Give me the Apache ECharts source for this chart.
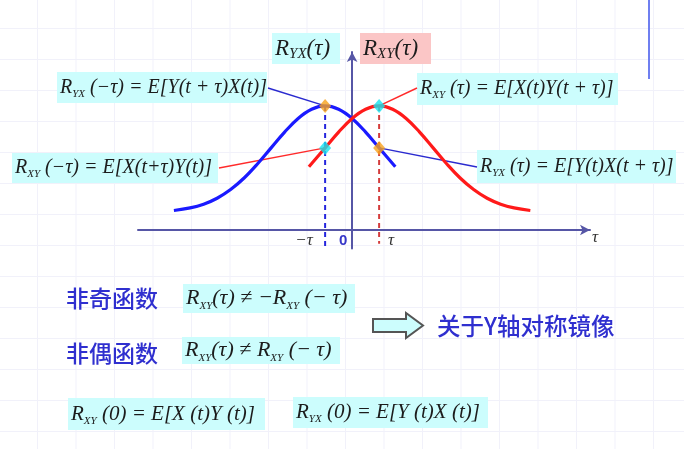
<!DOCTYPE html>
<html><head><meta charset="utf-8">
<script src="https://cdn.jsdelivr.net/npm/echarts@6/dist/echarts.min.js"></script>
<style>
html,body{margin:0;padding:0;background:#fff}
#c{width:684px;height:449px;background-color:#fff;
background-image:linear-gradient(#f1f1fa 1px,transparent 1px),linear-gradient(90deg,#f1f1fa 1px,transparent 1px);
background-size:38.5px 31px;background-position:37px 28px}
</style>
</head><body><div id="c"></div>
<script>
// ---- data ----
const tauBlue = [-6.6,-6,-5.5,-5,-4.5,-4,-3.5,-3,-2.5,-2,-1.5,-1,-0.5,0,0.5,1,1.6];
const rBlue   = [0.157,0.178,0.208,0.256,0.326,0.419,0.534,0.662,0.789,0.899,0.973,1.0,0.973,0.899,0.789,0.662,0.510];
const tauRed  = [-1.6,-1,-0.5,0,0.5,1,1.5,2,2.5,3,3.5,4,4.5,5,5.5,6,6.6];
const rRed    = [0.510,0.662,0.789,0.899,0.973,1.0,0.973,0.899,0.789,0.662,0.534,0.419,0.326,0.256,0.208,0.178,0.157];
const markTau = [-1, 1];
const orangeR = [1.0, 0.662];   // points on blue curve
const cyanR   = [0.662, 1.0];   // points on red curve
const tickTau  = [-1, 0, 1];
const tickText = ['−τ', '0', 'τ'];
const dashBottom = [-0.15, -0.11];

const SERIF = '"Liberation Serif","Times New Roman",serif';
const CJK = '"Noto Sans CJK SC","Noto Sans",sans-serif';
function rich(main, sub){
  return {
    m:{fontFamily:SERIF,fontStyle:'italic',fontSize:main,lineHeight:main+4,fill:'#1c1c1c',color:'#1c1c1c'},
    s:{fontFamily:SERIF,fontStyle:'italic',fontSize:sub,lineHeight:sub+3,verticalAlign:'bottom',fill:'#1c1c1c',color:'#1c1c1c'}
  };
}
const chart = echarts.init(document.getElementById('c'));
const axisColor = '#5656a6';
const zip = (a,b)=>a.map((v,i)=>[v,b[i]]);
chart.setOption({
  animation:false,
  backgroundColor:'transparent',
  grid:{left:138,right:94,top:52,bottom:200.4},
  xAxis:{type:'value',min:-7.93,max:8.81,
    axisLine:{onZero:true,symbol:['none','arrow'],symbolSize:[8,10],lineStyle:{color:axisColor,width:2}},
    axisTick:{show:false},axisLabel:{show:false},splitLine:{show:false}},
  yAxis:{type:'value',min:-0.15,max:1.435,
    axisLine:{show:true,onZero:true,symbol:['none','arrow'],symbolSize:[8,10],lineStyle:{color:axisColor,width:2}},
    axisTick:{show:false},axisLabel:{show:false},splitLine:{show:false}},
  series:[
    {type:'line',data:[[markTau[0],orangeR[0]],[markTau[0],dashBottom[0]]],showSymbol:false,z:3,
     lineStyle:{color:'#2525dd',width:2,type:[5,4]}},
    {type:'line',data:[[markTau[1],cyanR[1]],[markTau[1],dashBottom[1]]],showSymbol:false,z:3,
     lineStyle:{color:'#d43c3c',width:2,type:[5,4]}},
    {type:'line',data:zip(tauBlue,rBlue),smooth:0.4,showSymbol:false,z:4,
     lineStyle:{color:'#1a1aff',width:3.2}},
    {type:'line',data:zip(tauRed,rRed),smooth:0.4,showSymbol:false,z:5,
     lineStyle:{color:'#ff1a1a',width:3.2}},
    {type:'scatter',data:zip(markTau,orangeR),symbol:'diamond',symbolSize:[12,14],z:8,
     itemStyle:{color:'#f7a21b'}},
    {type:'scatter',data:zip(markTau,cyanR),symbol:'diamond',symbolSize:[12,14],z:8,
     itemStyle:{color:'#16e4ef'}}
  ]
});

const px = (x,y)=>chart.convertToPixel({gridIndex:0},[x,y]);
const oA = px(markTau[0],orangeR[0]), oB = px(markTau[1],orangeR[1]);
const cA = px(markTau[0],cyanR[0]),   cB = px(markTau[1],cyanR[1]);

const g = [];
const CY='#ccfdfd', PK='#fbc6c6';
const boxes = [
  {x:57,y:72,w:210,h:31,bg:CY,t:'{m|R}{s|YX}{m| (−τ) = E[Y(t + τ)X(t)]}',f:20,s:11},
  {x:12,y:153,w:206,h:30,bg:CY,t:'{m|R}{s|XY}{m| (−τ) = E[X(t+τ)Y(t)]}',f:20,s:11},
  {x:417,y:73,w:201,h:32,bg:CY,t:'{m|R}{s|XY}{m| (τ) = E[X(t)Y(t + τ)]}',f:20,s:11},
  {x:477,y:150,w:199,h:33,bg:CY,t:'{m|R}{s|YX}{m| (τ) = E[Y(t)X(t + τ)]}',f:20,s:11},
  {x:272,y:33,w:68,h:31,bg:CY,t:'{m|R}{s|YX}{m|(τ)}',f:23,s:15},
  {x:360,y:33,w:71,h:31,bg:PK,t:'{m|R}{s|XY}{m|(τ)}',f:23,s:15},
  {x:183,y:284,w:172,h:29,bg:CY,t:'{m|R}{s|XY}{m|(τ) ≠ −R}{s|XY}{m| (− τ)}',f:22,s:11},
  {x:182,y:337,w:158,h:27,bg:CY,t:'{m|R}{s|XY}{m|(τ) ≠ R}{s|XY}{m| (− τ)}',f:22,s:11},
  {x:68,y:398,w:197,h:32,bg:CY,t:'{m|R}{s|XY}{m| (0) = E[X (t)Y (t)]}',f:21,s:11},
  {x:293,y:397,w:195,h:31,bg:CY,t:'{m|R}{s|YX}{m| (0) = E[Y (t)X (t)]}',f:21,s:11}
];
boxes.forEach(b=>{
  g.push({type:'rect',z:1,shape:{x:b.x,y:b.y,width:b.w,height:b.h},style:{fill:b.bg}});
  g.push({type:'text',z:2,x:b.x+3,y:b.y+b.h/2,style:{text:b.t,rich:rich(b.f,b.s),align:'left',verticalAlign:'middle',fill:'#1c1c1c',font:'italic '+b.f+'px '+SERIF}});
});
const leaders = [
  {from:[268,88],to:oA,c:'#2a2acf'},
  {from:[219,168],to:cA,c:'#ff2a2a'},
  {from:[417,88],to:cB,c:'#ff2a2a'},
  {from:[477,167],to:oB,c:'#2a2acf'}
];
leaders.forEach(l=>g.push({type:'line',z:3,shape:{x1:l.from[0],y1:l.from[1],x2:l.to[0],y2:l.to[1]},style:{stroke:l.c,lineWidth:1.4}}));
const offs = [-21,-9,12];
tickTau.forEach((t,i)=>{
  const p = px(t,0);
  const isZero = tickText[i]==='0';
  g.push({type:'text',z:3,x:p[0]+offs[i],y:p[1]+11,style:{text:tickText[i],align:'center',verticalAlign:'middle',
    fill:isZero?'#3535c8':'#333',font:isZero?'bold 15px "Liberation Sans",sans-serif':'italic 17px '+SERIF}});
});
const endX = px(8.81,0);
g.push({type:'text',z:3,x:endX[0]+5,y:endX[1]+8,style:{text:'τ',align:'center',verticalAlign:'middle',fill:'#333',font:'italic 17px '+SERIF}});
g.push({type:'text',z:3,x:66,y:298,style:{text:'非奇函数',align:'left',verticalAlign:'middle',fill:'#2f2fcf',font:'500 23px '+CJK}});
g.push({type:'text',z:3,x:66,y:353,style:{text:'非偶函数',align:'left',verticalAlign:'middle',fill:'#2f2fcf',font:'500 23px '+CJK}});
g.push({type:'text',z:3,x:437,y:326,style:{text:'关于Y轴对称镜像',align:'left',verticalAlign:'middle',fill:'#2f2fcf',font:'500 23.5px '+CJK}});
g.push({type:'polygon',z:3,shape:{points:[[373,319],[406,319],[406,313],[423,325.5],[406,338],[406,332],[373,332]]},
  style:{fill:'#ccfdfd',stroke:'#555',lineWidth:2}});
g.push({type:'line',z:3,shape:{x1:649,y1:0,x2:649,y2:79},style:{stroke:'#6f7ff0',lineWidth:2}});
chart.setOption({graphic:{elements:g}});
</script>
</body></html>
